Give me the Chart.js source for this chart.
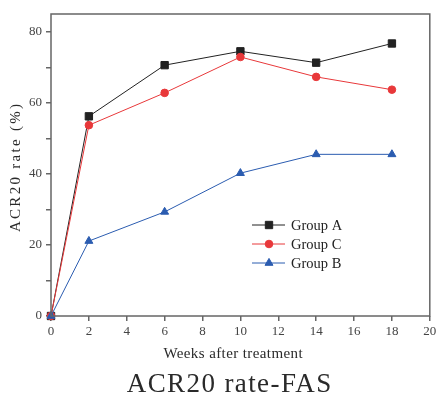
<!DOCTYPE html>
<html>
<head>
<meta charset="utf-8">
<script src="https://cdn.jsdelivr.net/npm/chart.js@4.4.0/dist/chart.umd.min.js"></script>
<style>
  html, body { margin: 0; padding: 0; background: #fff; }
  #wrap { width: 436px; height: 396px; }
</style>
</head>
<body>
<div id="wrap"><canvas id="acr"></canvas></div>
<script>
// weeks after treatment
var weeks = [0, 2, 6, 10, 14, 18];
// ACR20 rate (%) per group
var groupA = [0, 56.2, 70.6, 74.5, 71.3, 76.7];
var groupC = [0, 53.7, 62.8, 72.9, 67.3, 63.7];
var groupB = [0, 21.1, 29.3, 40.2, 45.5, 45.5];
var xTicks = [0, 2, 4, 6, 8, 10, 12, 14, 16, 18, 20];
var yTicks = [0, 10, 20, 30, 40, 50, 60, 70, 80];
var yLabels = [0, 20, 40, 60, 80];

function pts(vals) {
  return weeks.map(function (w, i) { return { x: w, y: vals[i] }; });
}

var serif = "'Liberation Serif', 'DejaVu Serif', serif";

// centred text with letter spacing (canvas adds spacing after the last char too)
function spacedText(c, txt, x, y, font, spacing) {
  c.font = font;
  c.letterSpacing = spacing + 'px';
  c.textAlign = 'left';
  c.textBaseline = 'middle';
  var w = c.measureText(txt).width - spacing;
  c.fillText(txt, x - w / 2, y);
  c.letterSpacing = '0px';
}

//draws the box round the plot, the titles and the legend inside it
var framePlugin = {
  id: 'frame',
  afterDraw: function (chart) {
    var a = chart.chartArea, c = chart.ctx;
    c.save();
    c.strokeStyle = '#666';
    c.lineWidth = 1.5;
    c.strokeRect(a.left, a.top, a.right - a.left, a.bottom - a.top);

    c.fillStyle = '#2a2a2a';
    spacedText(c, 'Weeks after treatment', 233, 354, '15px ' + serif, 0.4);
    spacedText(c, 'ACR20 rate-FAS', 229, 385, '27px ' + serif, 1.4);
    c.save();
    c.translate(16, 168);
    c.rotate(-Math.PI / 2);
    spacedText(c, 'ACR20 rate (%)', 0, 0, '15px ' + serif, 2.3);
    c.restore();

    // legend
    var lx = a.left + 201, ly = a.top + 211;
    chart.data.datasets.forEach(function (ds, i) {
      var y = ly + i * 19;
      c.strokeStyle = ds.borderColor;
      c.lineWidth = 1;
      c.beginPath();
      c.moveTo(lx, y);
      c.lineTo(lx + 33, y);
      c.stroke();
      c.fillStyle = ds.pointBackgroundColor;
      Chart.helpers.drawPoint(c, {
        pointStyle: ds.pointStyle,
        radius: ds.pointRadius,
        borderWidth: 1,
        rotation: 0
      }, lx + 17, y);
      c.fillStyle = '#222';
      c.font = '14.5px ' + serif;
      c.textAlign = 'left';
      c.textBaseline = 'middle';
      c.fillText(ds.label, lx + 39, y + 1);
    });
    c.restore();
  }
};

Chart.defaults.font.family = serif;

new Chart(document.getElementById('acr'), {
  type: 'line',
  data: {
    datasets: [
      { label: 'Group A', data: pts(groupA), borderColor: '#222', backgroundColor: '#222',
        pointBackgroundColor: '#222', pointStyle: 'rect', pointRadius: 5.2, borderWidth: 1, order: 3 },
      { label: 'Group C', data: pts(groupC), borderColor: '#e8383a', backgroundColor: '#e8383a',
        pointBackgroundColor: '#e8383a', pointStyle: 'circle', pointRadius: 3.8, borderWidth: 1, order: 2 },
      { label: 'Group B', data: pts(groupB), borderColor: '#2b5cb0', backgroundColor: '#2b5cb0',
        pointBackgroundColor: '#2b5cb0', pointStyle: 'triangle', pointRadius: 4.6, borderWidth: 1, order: 1 }
    ]
  },
  options: {
    responsive: true,
    maintainAspectRatio: false,
    animation: false,
    clip: false,
    layout: { padding: { top: 14, right: 0, left: 0, bottom: 0 } },
    plugins: {
      legend: { display: false },
      tooltip: { enabled: false },
      title: { display: false }
    },
    scales: {
      x: {
        type: 'linear',
        min: 0, max: 20,
        afterBuildTicks: function (s) { s.ticks = xTicks.map(function (v) { return { value: v }; }); },
        // let the last label run off the edge like the original
        afterFit: function (s) { s.height = 80; s.paddingRight = 6; },
        grid: { drawOnChartArea: false, drawTicks: true, tickLength: 5, color: '#666', lineWidth: 1.5 },
        border: { display: false },
        ticks: { color: '#444', font: { size: 13 }, padding: 3, maxRotation: 0 }
      },
      y: {
        min: 0, max: 85,
        afterBuildTicks: function (s) { s.ticks = yTicks.map(function (v) { return { value: v }; }); },
        afterFit: function (s) { s.width = 51; },
        grid: { drawOnChartArea: false, drawTicks: true, tickLength: 5, color: '#666', lineWidth: 1.5 },
        border: { display: false },
        ticks: {
          color: '#444', font: { size: 13 }, padding: 4,
          callback: function (v) { return yLabels.indexOf(v) >= 0 ? v : ''; }
        }
      }
    }
  },
  plugins: [framePlugin]
});
</script>
</body>
</html>
